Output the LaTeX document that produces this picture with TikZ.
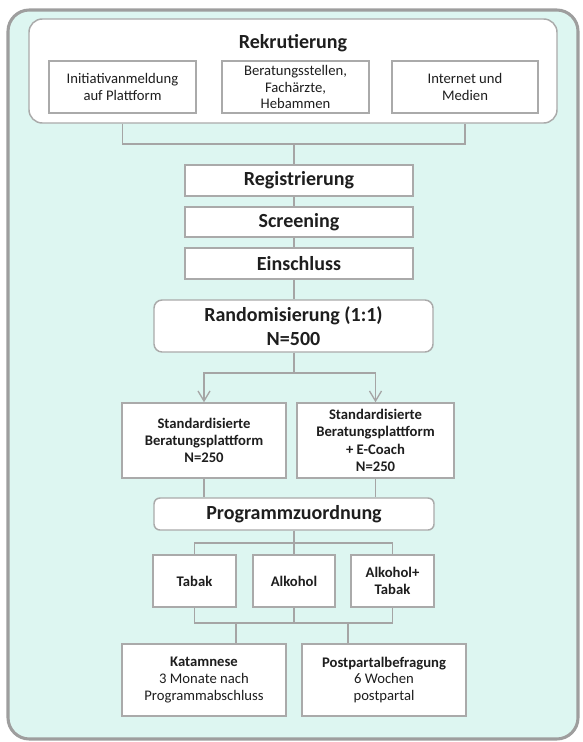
\documentclass[tikz,border=0pt]{standalone}
\usepackage{fontspec}
\setmainfont{Carlito}
\usepackage{tikz}
\usetikzlibrary{arrows.meta}
\definecolor{frameback}{RGB}{221,246,241}
\definecolor{framegray}{RGB}{158,158,158}
\definecolor{boxline}{RGB}{170,170,170}
\definecolor{linegray}{RGB}{165,165,165}
\definecolor{textdark}{RGB}{30,30,30}
\tikzset{
  stepbox/.style={draw=boxline, line width=1.1pt, fill=white, inner sep=0pt, align=center, text=textdark},
  conn/.style={draw=linegray, line width=1pt},
  arr/.style={conn, -{Straight Barb[length=7.5pt,width=9pt]}},
  bigtext/.style={font=\fontsize{15}{18}\selectfont\bfseries},
  smalltext/.style={font=\fontsize{11}{12.5}\selectfont},
  smallbold/.style={font=\fontsize{11}{13}\selectfont\bfseries},
}

\begin{document}
\begin{tikzpicture}[x=0.75pt,y=-0.75pt]
\useasboundingbox (0,0) rectangle (582,742);
\draw[framegray, line width=2.3pt, fill=frameback, rounded corners=16pt] (8,10) rectangle (578,739);

\node[stepbox, rounded corners=10pt, minimum width=396pt, minimum height=78pt] (rek) at (293,71) {};
\node[bigtext, text=textdark] (rektitle) at (293,43) {Rekrutierung};
\node[stepbox, smalltext, minimum width=110.25pt, minimum height=39pt] (anm) at (122.5,87) {Initiativanmeldung\\auf Plattform};
\node[stepbox, smalltext, minimum width=110.25pt, minimum height=39pt] (ber) at (295.5,87) {Beratungsstellen,\\Fachärzte,\\Hebammen};
\node[stepbox, smalltext, minimum width=109.5pt, minimum height=39pt] (med) at (465,87) {Internet und\\Medien};

\node[stepbox, bigtext, minimum width=171pt, minimum height=23.25pt] (reg) at (299,180.5) {Registrierung};
\node[stepbox, bigtext, minimum width=171pt, minimum height=22.5pt] (scr) at (299,222) {Screening};
\node[stepbox, bigtext, minimum width=171pt, minimum height=23.25pt] (ein) at (299,263.5) {Einschluss};
\node[stepbox, bigtext, rounded corners=6pt, minimum width=209.25pt, minimum height=39pt] (rand) at (293.5,326) {Randomisierung (1:1)\\N=500};

\node[stepbox, smallbold, minimum width=123pt, minimum height=56.25pt] (sbp) at (204,440.5) {Standardisierte\\Beratungsplattform\\N=250};
\node[stepbox, smallbold, minimum width=117.75pt, minimum height=56.25pt] (sbe) at (375.5,440.5) {Standardisierte\\Beratungsplattform\\+ E-Coach\\N=250};
\node[stepbox, bigtext, rounded corners=4.5pt, minimum width=210pt, minimum height=24pt] (prog) at (294,514) {Programmzuordnung};

\node[stepbox, smallbold, minimum width=62.25pt, minimum height=39pt] (tab) at (194.5,581) {Tabak};
\node[stepbox, smallbold, minimum width=61.5pt, minimum height=39pt] (alk) at (294,581) {Alkohol};
\node[stepbox, smallbold, minimum width=62.25pt, minimum height=39pt] (alt) at (392.5,581) {Alkohol+\\Tabak};

\node[stepbox, smalltext, minimum width=123pt, minimum height=54pt] (kat) at (204,680) {\textbf{Katamnese}\\3 Monate nach\\Programmabschluss};
\node[stepbox, smalltext, minimum width=123pt, minimum height=54pt] (ppb) at (384,680) {\textbf{Postpartalbefragung}\\6 Wochen\\postpartal};

\coordinate (rekbus) at (294,144);
\coordinate (split) at (294,373);
\coordinate (progbus) at (294,543);
\coordinate (endbus) at (294,623);
\coordinate (katin) at (236,623);
\coordinate (ppbin) at (348,623);

\draw[conn] (anm.south |- rek.south) |- (rekbus) -| (med.south |- rek.south);
\draw[conn] (rekbus) -- (rekbus |- reg.north);
\draw[conn] (reg.south -| rekbus) -- (scr.north -| rekbus);
\draw[conn] (scr.south -| rekbus) -- (ein.north -| rekbus);
\draw[conn] (ein.south -| rekbus) -- (rand.north -| rekbus);
\draw[conn] (rand.south -| split) -- (split);
\draw[arr] (split) -| (sbp.north);
\draw[arr] (split) -| (sbe.north);
\draw[conn] (sbp.south) -- (sbp.south |- prog.north);
\draw[conn] (sbe.south) -- (sbe.south |- prog.north);
\draw[conn] (prog.south -| progbus) -- (progbus);
\draw[conn] (tab.north) |- (progbus) -| (alt.north);
\draw[conn] (progbus) -- (alk.north);
\draw[conn] (tab.south) |- (endbus) -| (alt.south);
\draw[conn] (alk.south) -- (endbus);
\draw[conn] (katin) -- (katin |- kat.north);
\draw[conn] (ppbin) -- (ppbin |- ppb.north);
\end{tikzpicture}
\end{document}
